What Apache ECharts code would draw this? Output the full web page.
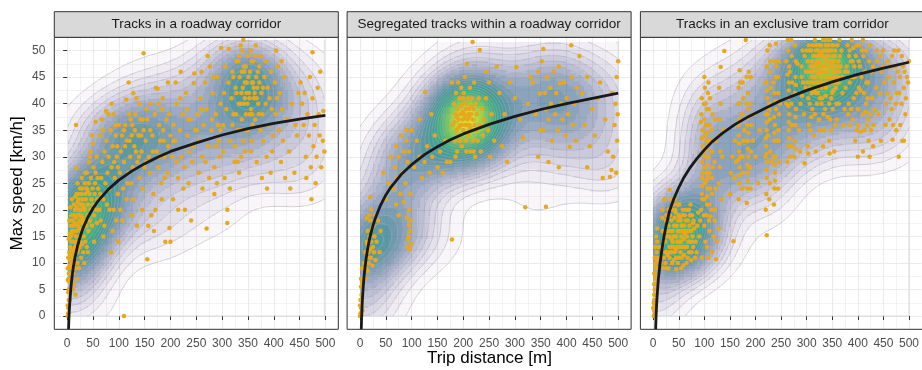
<!DOCTYPE html>
<html>
<head>
<meta charset="utf-8">
<script src="https://cdn.jsdelivr.net/npm/echarts@6.0.0/dist/echarts.min.js"></script>
<style>
html, body { margin: 0; padding: 0; background: #fff; }
#chart { width: 922px; height: 370px; }
</style>
</head>
<body>
<div id="chart"></div>
<script>
var panelTitles = ['Tracks in a roadway corridor', 'Segregated tracks within a roadway corridor', 'Tracks in an exclusive tram corridor'];
var xTicks = [0, 50, 100, 150, 200, 250, 300, 350, 400, 450, 500];
var yTicks = [0, 5, 10, 15, 20, 25, 30, 35, 40, 45, 50];

// trips: [distance m, max speed km/h]
var roadwayPts = [
  [1,0],[2,0.5],[1,2],[3,3],[2,4.5],[4,6.5],[1,6.8],[3,8],[5,9.5],[2,11],[4,12],[6,13],[3,14.5],[5,15.5],[7,17],[4,18],[8,19],[6,20.5],[9,22],[2,1.5],[3,5],[6,10.5],[8,12.5],[9,16],[5,3],[1,9],
  [3,7],[5,8],[7,9],[9,10],[11,11],[13,12],[15,14],[17,15],[19,17],[21,19],[23,20],[25,21],[27,23],[6,11.5],[8,14],[10,15.5],[12,16],[14,17.5],[16,18.5],[18,20.5],[20,21.5],[24,23],[30,24],[34,25],[38,27],[9,6],[12,12.5],[15,11],[18,13.5],[22,17.5],[26,19],[30,21],[35,23],[40,23.5],[7,15],[10,18],[13,21],[16,22.5],[28,17.5],[32,20.5],
  [11,5],[12,8],[13,10],[14,11.5],[15,13],[16,9],[17,14],[18,16],[19,12],[20,10],[21,17],[22,15],[23,19],[24,13],[25,18],[26,21],[27,16],[28,20],[29,22],[12,17],[15,20],[18,23],[20,25],[22,22],[25,24],[28,26],[17,36],[14,19],[13,6],[16,4],[19,7],[21,12.5],[23,9],[26,14],[27,11],[29,13.5],[11,14],[24,16.5],[30,18.5],[18,27.9],
  [31,12],[32,15],[33,18],[34,20],[35,14],[36,22],[37,17],[38,24],[39,19],[40,21],[41,16],[42,25],[43,23],[44,18],[45,20],[46,26],[47,22],[48,17],[49,24],[50,21],[51,28],[52,19],[53,23],[54,25],[55,27],[56,20],[57,30],[58,22],[59,26],[60,24],[33,10],[38,13],[42,29],[45,31],[48,34],[55,36.6],[52,14],[58,17.5],[35,27],[40,12],[44,30],[50,32.5],
  [62,20],[64,23],[66,26],[68,29],[70,22],[72,31],[74,25],[76,33],[78,27],[80,30],[82,24],[84,35],[86,28],[88,32],[90,20],[92,26],[94,34],[96,30],[98,23],[100,36],[65,18],[70,15],[75,38.6],[85,12],[88,16],[95,18],[98,28],[63,34],[67,37],[80,38],[90,38],[93,36],[97,32],[72,17],[82,20],[99,14],[86,40],[77,21],[91,29],[69,35],
  [102,27],[104,31],[106,34],[108,24],[110,0],[110,29],[112,36],[114,40.8],[116,33],[118,27],[120,38],[122,30],[124,25],[125,34],[126,36],[128,22],[130,32],[132,38],[134,41],[136,29],[138,34],[140,26],[142,37],[144,31],[146,24],[148,49.5],[148,35],[150,28],[103,20],[107,18],[115,22],[125,19],[135,17],[145,20],[119,44],[128,42],[140,40],[112,32],[131,35],[139,30],[117,25],[127,28],[121,33],[143,34],
  [110,35],[123,37],[133,31],[146,37],[153,39],[166,31],[177,40],[187,33],[206,33],[219,41],[234,37],[251,35],[260,39],[283,45],[288,32],[297,35],
  [152,33],[155,10.7],[155,37],[158,30],[160,27],[162,40],[165,34],[167,23],[170,38],[172,43],[174,31],[176,28],[178,36],[180,33],[182,25],[184,39],[186,35],[188,30],[190,14],[192,37],[194,27],[196,32],[198,16.6],[200,14],[200,34],[157,17],[163,19],[168,16],[175,42.8],[185,41],[195,44],[153,29],[161,35],[179,30],[189,26],[197,38],[171,20],[183,22],
  [203,30],[206,36],[209,33],[212,40],[215,26],[218,35],[221,30],[224,38],[227,28],[230,42],[233,34],[236,31],[239,37],[242,29],[245,43.9],[246,45.7],[248,35],[205,22],[215,20],[225,24],[235,25],[240,18],[210,44],[220,46],[232,39],[244,32],[228,20],[212,29],
  [252,38],[255,33],[258,41],[261,30],[264,36],[267,44],[270,16.5],[270,39],[273,32],[276,47],[279,35],[282,42],[285,28],[288,38],[291,45],[294,33],[297,40],[298,50.5],[255,27],[262,24],[275,26],[285,23],[295,30],[290,25],[268,29],[280,37],[292,36],[260,46],[272,49],
  [302,36],[304,42],[306,47],[308,39],[310,20],[310,17.5],[312,44],[313,50.3],[315,33],[318,41],[320,46],[322,38],[324,29],[326,43],[328,48],[330,29],[332,40],[334,45],[336,51],[338,37],[340,43],[342,47],[344,41],[346,38],[348,44],[350,49],[335,35],[325,32],[345,31],[341,52],[339,50],[343,46],[347,42],[349,40],[305,26],[315,24],[333,27],[320,36],[337,42],[344,44],[331,48],[327,38],[349,35],[302,31],
  [322,45],[328,42],[333,49],[338,46],[342,40],[346,47],[351,45],[353,41],[357,48],[361,43],[364,49],[336,40],[346,35],[358,38],[367,41],[372,44],[341,33],[356,31],[337,30],[330,35],
  [352,42],[354,46],[356,39],[358,44],[360,48],[362,41],[364,37],[366,45],[368,43],[370,40],[372,47],[374,35],[376,42],[378,38],[380,33],[382,45],[384,40],[386,30],[388,43],[390,36],[392,41],[394,27],[396,39],[398,34],[355,50],[365,51],[375,49],[385,48],[395,46],[357,33],[367,29],[377,26],[387,24],[397,31],[360,44],[369,46],[363,42],[353,38],[359,36],[371,38],[379,43],
  [402,44],[404,38],[406,41],[408,47],[410,35],[412,42],[414,29],[416,39],[418,33],[420,45],[425,37],[430,31],[435,40],[440,27],[445,34],[448,42],[405,50],[415,48],[422,26],[432,24],[442,36],
  [452,44],[455,40],[458,36],[460,42],[462,30],[465,38],[468,34],[470,45],[472,28],[475,49.7],[475,41],[477,32],[479,36],[481,25],[483,30],[485,43],[487,38],[489,34],[492,28],[495,33],[496,38.6],[498,31],[463,26],[473,22],[490,46]
];

var segregatedPts = [
  [0,0],[1,0.5],[2,1.5],[1,3],[3,4],[2,5.5],[4,6.3],[0,2],[3,0.2],[5,1],[2,7],[4,9],
  [8,10],[10,12],[12,9],[13,14],[14,11],[15,16],[16,13],[17,10],[18,15],[19,12.5],[20,18],[21,11],[22,14],[23,16.5],[24,9.5],[25,13],[26,17],[27,12],[28,15],[30,10.5],[32,14],[35,18],[38,12],[40,16],[13,18.4],[20,22.4],[11,7],[15,8.5],[18,19],[22,20],[29,19],[16,12],[19,14],[14,13.5],
  [92,13],[94,15],[95,17],[96,12.6],[97,16],[98,18],[93,14.5],[99,13.5],[95,20],[91,18.5],
  [45,27],[50,22],[55,25],[60,30],[65,24],[68,28],[70,32],[72,26],[75,30],[78,23],[80,34],[82,27],[85,31],[88,25],[90,33],[92,29],[95,31],[97,23],[100,35],[105,28],[110,33],[115,30],[120,26],[125,29],[126,42.2],[130,32],[135,27],[140,30],[145,34],[150,28],[155,31],[160,27],[165,33],[168,29],[90,35],[115,37],[138,38],[75,19],[70,21],[85,21.5],
  [178,14.4],[180,36],[182,40],[184,33],[185,38],[186,42],[187,35],[188,31],[189,39],[190,44],[191,37],[192,34],[193,41],[194,38],[195,36],[196,43],[197,32],[198,40],[199,37],[200,35],[201,42],[202,38],[203,45],[204,36],[205,33],[206,40],[207,47.5],[208,37],[209,41],[210,34],[211,39],[212,36],[213,43],[214,31],[215,38],[216,35],[217,41],[218,51.6],[218,37],[219,33],[220,39],[221,44],[222,36],[223,30],[224,40],[225,35],[226,38],[228,33],[230,41],[232,50.1],[232,36],[234,31],[236,39],[238,34],[240,37],[183,36.5],[187,37.5],[191,35.5],[195,39.5],[199,38.5],[203,37.5],[207,36],[211,37.5],[215,39.5],[205,39],[200,41],[197,36],[210,38],[213,35.5],[194,33],[206,31],[220,31],[185,30],[244,41],[248,35],[252,30],[255,38],[260,33],[245,46],[175,29],[178,44],[250,44],
  [265,47],[270,42],[280,38],[290,44],[300,41],[303,46.9],[310,37],[316,33.5],[320,20.5],[325,40],[330,45],[275,32],[285,29],
  [335,44],[340,38],[345,46],[348,41.9],[350,35],[352,48],[355,50.3],[355,35],[358,42],[360,39],[362,45],[365,37],[368,43],[370,40],[372,33],[375,46],[378,38],[380,42],[383,35],[385,47],[387,43.8],[390,40],[392,37],[395,44],[398,34],[400,41],[403,38],[406,31.9],[409,51],[410,45],[412,36],[415,40],[418,33],[420,43],[345,30],[365,29],[385,28],[360,20.6],
  [430,42],[435,36],[440,45],[445,32],[450,39],[455,34],[460,41],[465,44],[470,26],[475,37],[480,31],[484,26.2],[487,27.5],[488,42],[490,30],[493,36],[495,40],[496,27],[497,45],[498,33],[500,48],[499,38],[440,28],[425,49]
];

var exclusivePts = [
  [1,0],[2,1],[3,2],[4,3],[2,4],[3,5],[5,6],[4,7],[2,8],[6,9],[5,10],[3,11],[7,12],[4,13],[8,14],[1,2.5],[3,0.5],[5,4],[2,6],[6,7.5],[4,9.5],[7,10.5],[6,15],[0,1.5],[8,16.5],[9,11],[10,13],[2,3],[5,2],
  [15,10],[17,13],[19,16],[21,11],[23,14],[25,18],[27,9],[29,12],[31,15],[33,19],[35,22],[37,10],[39,13],[41,17],[43,20],[45,11],[47,14],[49,18],[51,21],[53,12],[55,15],[57,19],[59,9.5],[61,13],[63,16],[65,20],[67,11],[69,14],[71,17],[73,21],[75,12],[77,15],[79,18],
  [18,20],[22,22],[26,15],[30,20],[34,13],[38,16],[42,12],[46,17],[50,14],[54,18],[58,13],[62,19],[66,15],[70,12],[74,16],[78,13],[36,18],[40,21],[44,15],[48,10],[52,16],[56,11],[60,17],[64,13],[68,18],[72,14],[76,19],[28,16],[32,11],[24,12],[20,14],[45,8.8],[55,9],[65,10],[32,23.8],[22.7,22],[18,18.5],[40,15],[50,19],[60,14.5],[48,16],[42,18.5],[38,14],[58,16],[44,12.5],[52,13],
  [20,9],[24,10],[28,11.5],[32,13],[36,14.5],[40,10.5],[44,19.5],[48,21],[52,18.5],[56,17],[60,11.5],[64,18],[68,16],[72,19],[76,14],[80,16.5],[26,19],[30,17],[34,16],[38,20],[42,22],[46,13],[50,11],[54,14],[58,20],[62,15.5],[66,13],[70,20],[74,10.5],[78,17.5],[30,9],[35,12],[25,16],[83,14],[86,17],[88,19.5],[82,11],
  [85,12],[90,15],[95,11],[100,17],[105,13],[110,16],[115,12],[120,18],[123,10.7],[125,14],[128,16.5],[102,14],[112,18.8],[118,15],[92,18],[108,11],[157,14.1],[222,15.2],
  [94,20],[95,23],[96,26],[95,29],[97,32],[96,35],[94,38],[95,41],[96,22],[97,27],[94,30.5],[95,33.5],[93,36.5],[96,24.5],
  [99,19],[100,22],[101,25],[100,28],[99,31],[101,34],[100,37],[99,40],[101,43],[100,45],
  [104,19],[105,21],[106,24],[105,27],[107,30],[104,33],[106,36],[105,39],[107,42],[104,25.5],[106,31.5],[105,34.5],[106,28.5],[105,22.5],
  [102,30],[103,36],[107,26],[108,33],[103,40],[108,44],
  [109,18],[110,21],[111,24],[110,27],[109,30],[111,33],[110,36],[109,39],[111,41],
  [114,20],[115,23],[116,28],[115,31],[114,35],[116,38],[115,26],[114,33],[121,20],[122,24],[120,29],[123,33],[121,37],
  [128,25],[130,28],[131,31],[129,34],[130,37],[132,40],[129,43],[132,46.9],[139,49.9],[135,30],[137,35],[133,22],
  [150,23],[152,27],[155,30],[158,26],[160,33],[162,29],
  [167,22],[168,25],[169,28],[168,31],[167,34],[169,37],[168,40],[167,43],[169,46.3],[168,26.5],[168,32.5],[167,29.5],
  [166,36],[170,30],[166,40],[170,44],
  [174,24],[175,27],[176,33],[174,38],[176,41],[175,44],
  [183,21.3],[184,24],[185,27],[186,30],[185,33],[184,36],[186,39],[185,42],[183,45],[181,52],[185,25.5],[186,34.5],[184,28.5],[185,31.5],[186,37.5],
  [182,33],[187,28],[182,40],[187,46],
  [190,24],[191,31],[192,36],[190,40],[191,45],
  [175,30],[178,35],[190,28],[195,33],[198,38],[200,30],[205,25],[208,35],
  [220,20],[221,23],[222,26],[223,29],[221,32],[222,35],[220,38],[223,41],[221,44],[222,47],[223,50],[222,30.5],[221,27.5],[222,36.5],[220,33.5],[223,42.5],
  [219,30],[224,34],[219,44],[224,38],
  [227,22],[228,25],[229,31],[228,37],[227,40],[229,48],[228,51],
  [236,21],[237,24],[238,27],[239,30],[237,33],[238,36],[240,39],[237,42],[239,45],[238,48],[240,51.3],[238,28.5],[237,34.5],[239,40.5],[238,25.5],[236,37.5],
  [235,30],[241,33],[235,44],[241,47],
  [244,24],[246,29],[245,33],[246,38],[244,42],[246,48],
  [230,43],[245,35],[248,40],[232,29],[228,46],[244,45],[226,39],
  [262,29],[264,32],[265,35],[266,38],[264,41],[265,44],[266,47],[264,50],[263,52],[265,36.5],[266,33.5],[264,39.5],[265,42.5],[263,45.5],
  [260,40],[267,46],[260,48],[267,30],
  [270,32],[271,36],[270,40],[272,44],[271,49],[270,52],
  [276,30],[277,33],[278,36],[279,39],[277,42],[278,45],[279,48],[277,51],[278,37.5],[279,43.5],[278,31.5],
  [285,35],[288,40],[290,45],[292,50],[295,38],[298,43],[287,31],[296,28.8],[282,47.5],[291,41.5],
  [302,32],[304,36],[306,40],[308,44],[310,48],[312,51],[314,34],[316,38],[318,42],[320,46],[322,50],[324,37],[326,41],[328,45],[330,49],[332,52],[334,35],[336,39],[338,43],[340,47],[342,51],[344,33],[346,37],[348,41],[350,45],[352,49],[354,31],[356,36],[358,40],[360,44],[362,48],[364,52],
  [305,46],[309,50],[313,45],[317,49],[321,44],[325,48],[329,43],[333,47],[337,51],[341,46],[345,50],[349,44],[353,48],[357,43],[361,47],[319,47.5],[323,45.5],[327,49.5],[331,46],[335,48.5],[339,45],[343,49],[347,47],[315,42.5],[311,39],[307,35],[303,41],[351,39],[355,44],[359,37],[326,35],[333,38],[341,37.5],[348,35],[303,30.6],[318,31],[332,32],[345,30.6],[309,37.5],[320,40],[337,41.5],[352,42.5],
  [301,44],[306,50],[311,46],[316,52],[321,48],[326,51],[331,50],[336,46],[341,49],[346,52],[351,47],[356,50],[361,45],[363,40],[314,44],[322,42],[329,40],[344,40],[357,46],[365,49],[312,47],[338,48],[324,51],[348,50],
  [290,47],[293,44],[296,49],[299,46],[302,48],[304,51],[307,43],[310,45],[313,49],[315,47],[318,50],[320,43],[323,49],[325,46],[328,51],[330,47],[333,44],[335,50],[338,47],[340,44],[343,52],[345,48],[347,45],[350,51],[353,46],[355,49],[358,47],[360,51],[362,44],[366,47],[368,50],[370,45],
  [300,50],[308,47],[316,45],[324,47],[332,49],[340,50],[348,48],[356,45],[364,46],[319,51],[327,44],[336,52],[344,45],[352,51],[310,42],[330,41],[350,42],[370,42],
  [372,36],[374,39],[376,43],[378,47],[380,51],[382,40],[384,44],[386,48],[388,52],[390,37],[392,41],[394,45],[396,49],[398,35],[400,39],[402,43],[404,47],[406,34.7],[408,50],[410,38],[412,42],[414,46],[416,40],[418,36],[420,44],[422,48],[423,30],[425,38],[426,35],[428,41],[430,32],[413,35],[415,38.5],[419,41],[421,33],[410,31],[400,30],[405,42.5],[385,36],[395,33],[375,46],[391,50.5],[383,49],[403,51],
  [381,38],[389,45],[397,42],[407,45],[411,49],[417,44],[427,46],[433,39],[436,43],[438,48],[387,39],[401,36],[393,47],[420,37],[431,36],
  [380,46],[384,50],[390,48],[398,51],[402,48],[410,52],[416,50],[424,51],[430,47],[437,50],[444,49],[450,47],
  [440,38],[443,42],[446,46],[449,50],[452,44],[455,40],[458,48],[461,45],[464,41],[467,49],[468,33.2],[470,44],[473,47],[476,42],[479,50],[482,45],[485,40],[488,47],[490,43],[493,38],[496,45],[500,48],[454,36],[462,37],[475,35],[483,36],[445,33],[480,30],[490,33],
  [458,42],[463,47],[466,39],[471,50],[474,40],[478,46],[481,42],[486,49],[491,46],[494,41],[498,44],[469,36],[487,33]
];

// fitted curve
var roadwayFit = [[2.6,-2.5],[3,-1.3],[3.5,0],[4,1],[5,2.6],[6,3.9],[7,5.2],[8,6.2],[10,7.9],[12,9.3],[15,11],[20,13.2],[25,14.9],[30,16.4],[40,18.6],[50,20.3],[60,21.7],[80,23.9],[100,25.6],[125,27.3],[150,28.7],[175,29.9],[200,31],[250,32.6],[300,34.1],[350,35.3],[400,36.3],[450,37.1],[500,37.8]];
var segregatedFit = [[2.5,-2.5],[3,-0.6],[3.5,0.7],[4,1.8],[5,3.7],[6,5.2],[7,6.5],[8,7.6],[10,9.4],[12,10.9],[15,12.8],[20,15.2],[25,17],[30,18.5],[40,20.9],[50,22.8],[60,24.3],[80,26.7],[100,28.5],[125,30.4],[150,31.9],[175,33.2],[200,34.3],[250,36.1],[300,37.6],[350,38.9],[400,40],[450,41],[500,42]];
var exclusiveFit = [[4.8,-2.5],[5.3,-1],[6,0.8],[7,2.7],[8,4.2],[10,6.8],[13,9.6],[16,11.8],[20,14.4],[25,16.9],[32,19.8],[40,22],[50,24.2],[60,26.1],[71,27.8],[85,29.6],[100,31.3],[115,32.8],[135,34.4],[160,36.1],[187,37.6],[220,39.2],[250,40.6],[300,42.5],[350,44.1],[400,45.5],[450,46.7],[500,47.8]];

var panelPts = [roadwayPts, segregatedPts, exclusivePts];
var panelFits = [roadwayFit, segregatedFit, exclusiveFit];

var FONT = 'Liberation Sans, Arial, Helvetica, sans-serif';
var LEFTS = [54.3, 347.1, 640.4];
var PW = 284, TOP = 37.3, PH = 292;
var NLEV = 25, A_LO = 0.04, A_HI = 0.42, A_EXP = 1.2, NG = 100;

// ---- 2d kernel density (MASS::kde2d style) ----
function quant(s, p) {
  var h = (s.length - 1) * p, lo = Math.floor(h);
  var hi = Math.min(lo + 1, s.length - 1);
  return s[lo] + (h - lo) * (s[hi] - s[lo]);
}
function bw(v) {
  var n = v.length, m = 0, i;
  for (i = 0; i < n; i++) m += v[i];
  m /= n;
  var ss = 0;
  for (i = 0; i < n; i++) ss += (v[i] - m) * (v[i] - m);
  var sd = Math.sqrt(ss / (n - 1));
  var s = v.slice().sort(function (a, b) { return a - b; });
  var iqr = quant(s, 0.75) - quant(s, 0.25);
  return 1.06 * Math.min(sd, iqr / 1.34) * Math.pow(n, -0.2);
}
function kde(pts) {
  var xs = pts.map(function (p) { return p[0]; });
  var ys = pts.map(function (p) { return p[1]; });
  var x0 = Math.min.apply(null, xs), x1 = Math.max.apply(null, xs);
  var y0 = Math.min.apply(null, ys), y1 = Math.max.apply(null, ys);
  var hx = bw(xs), hy = bw(ys), n = pts.length;
  var gx = [], gy = [], i, j, k;
  for (i = 0; i < NG; i++) { gx.push(x0 + (x1 - x0) * i / (NG - 1)); gy.push(y0 + (y1 - y0) * i / (NG - 1)); }
  var ax = gx.map(function (g) { return xs.map(function (x) { var u = (g - x) / hx; return Math.exp(-0.5 * u * u); }); });
  var ay = gy.map(function (g) { return ys.map(function (y) { var u = (g - y) / hy; return Math.exp(-0.5 * u * u); }); });
  var z = [], max = 0, norm = 1 / (n * 2 * Math.PI * hx * hy);
  for (i = 0; i < NG; i++) {
    z.push([]);
    for (j = 0; j < NG; j++) {
      var s = 0, a = ax[i], b = ay[j];
      for (k = 0; k < n; k++) s += a[k] * b[k];
      s *= norm;
      z[i].push(s);
      if (s > max) max = s;
    }
  }
  return { gx: gx, gy: gy, z: z, max: max };
}

var dens = panelPts.map(kde);
var gmax = Math.max.apply(null, dens.map(function (d) { return d.max; }));
var levels = [];
for (var m = 1; m < NLEV; m++) levels.push(gmax * m / NLEV);

var VIR = [[68,1,84],[72,36,117],[65,68,135],[53,95,141],[42,120,142],[33,145,140],[34,168,132],[68,191,112],[122,209,81],[189,223,38],[253,231,37]];
function viridis(t) {
  var p = t * (VIR.length - 1), i = Math.min(Math.floor(p), VIR.length - 2), f = p - i;
  return [0, 1, 2].map(function (c) { return VIR[i][c] + (VIR[i + 1][c] - VIR[i][c]) * f; });
}
// stacked translucent polygons -> one rgba per level count
var stackCols = [null];
(function () {
  var S = [0, 0, 0], T = 1;
  for (var k = 1; k <= levels.length; k++) {
    var t = (k - 1) / (levels.length - 1);
    var c = viridis(0.08 + 0.92 * t), a = A_LO + (A_HI - A_LO) * Math.pow(t, A_EXP);
    S = S.map(function (v, q) { return v * (1 - a) + a * c[q]; });
    T *= (1 - a);
    var A = 1 - T;
    stackCols.push('rgba(' + S.map(function (v) { return Math.round(v / A); }).join(',') + ',' + A.toFixed(3) + ')');
  }
})();
function levelCount(v) {
  var k = 0;
  while (k < levels.length && v >= levels[k]) k++;
  return k;
}

var SEG = {1:[['L','B']],2:[['B','R']],3:[['L','R']],4:[['R','T']],5:[['L','T'],['B','R']],6:[['B','T']],7:[['L','T']],
  8:[['L','T']],9:[['B','T']],10:[['L','B'],['R','T']],11:[['R','T']],12:[['L','R']],13:[['B','R']],14:[['L','B']]};

function densityRenderer(d) {
  return function (params, api) {
    var children = [];
    var fx = d.gx.map(function (g) { return api.coord([g, 0])[0]; });
    var fy = d.gy.map(function (g) { return api.coord([0, g])[1]; });
    var px = fx.map(Math.round), py = fy.map(Math.round);
    var i, j;
    for (j = 0; j < NG - 1; j++) {
      var runK = 0, runStart = 0;
      for (i = 0; i < NG; i++) {
        var k = 0;
        if (i < NG - 1) k = levelCount((d.z[i][j] + d.z[i + 1][j] + d.z[i][j + 1] + d.z[i + 1][j + 1]) / 4);
        if (k !== runK || i === NG - 1) {
          if (runK > 0) children.push({ type: 'rect', shape: { x: px[runStart], y: py[j + 1], width: px[i] - px[runStart], height: py[j] - py[j + 1] }, style: { fill: stackCols[runK] } });
          runK = k; runStart = i;
        }
      }
    }
    levels.forEach(function (L) {
      var path = [];
      for (i = 0; i < NG - 1; i++) {
        for (j = 0; j < NG - 1; j++) {
          var a = d.z[i][j], b = d.z[i + 1][j], c = d.z[i + 1][j + 1], e = d.z[i][j + 1];
          var idx = (a >= L ? 1 : 0) | (b >= L ? 2 : 0) | (c >= L ? 4 : 0) | (e >= L ? 8 : 0);
          var segs = SEG[idx];
          if (!segs) continue;
          var P = {
            B: [fx[i] + (L - a) / (b - a) * (fx[i + 1] - fx[i]), fy[j]],
            R: [fx[i + 1], fy[j] + (L - b) / (c - b) * (fy[j + 1] - fy[j])],
            T: [fx[i] + (L - e) / (c - e) * (fx[i + 1] - fx[i]), fy[j + 1]],
            L: [fx[i], fy[j] + (L - a) / (e - a) * (fy[j + 1] - fy[j])]
          };
          segs.forEach(function (sg) {
            var p1 = P[sg[0]], p2 = P[sg[1]];
            path.push('M' + p1[0].toFixed(1) + ' ' + p1[1].toFixed(1) + 'L' + p2[0].toFixed(1) + ' ' + p2[1].toFixed(1));
          });
        }
      }
      if (path.length) children.push({ type: 'path', shape: { pathData: path.join('') }, style: { fill: null, stroke: '#a8a8b2', lineWidth: 0.5 } });
    });
    // outline of the density grid
    var x0 = fx[0], x1 = fx[NG - 1], y0 = fy[0], y1 = fy[NG - 1];
    children.push({ type: 'polyline', shape: { points: [[x0, y0], [x1, y0], [x1, y1]] }, style: { fill: null, stroke: '#cfcfd4', lineWidth: 0.7 } });
    return { type: 'group', children: children };
  };
}

var grids = [], xAxes = [], yAxes = [], series = [], graphics = [];
LEFTS.forEach(function (left, p) {
  grids.push({ left: left, top: TOP, width: PW, height: PH, containLabel: false });
  xAxes.push({
    gridIndex: p, type: 'value', min: -25, max: 525, splitNumber: 11,
    axisLine: { show: false },
    axisTick: { show: true, length: 4, lineStyle: { color: '#333333', width: 1 }, customValues: xTicks },
    axisLabel: { customValues: xTicks, margin: 8, fontSize: 12, color: '#4D4D4D', fontFamily: FONT },
    splitLine: { show: true, lineStyle: { color: '#EBEBEB', width: 1.1 } }
  });
  xAxes.push({
    gridIndex: p, type: 'value', position: 'top', min: -25, max: 525, interval: 50,
    axisLine: { show: false }, axisTick: { show: false }, axisLabel: { show: false },
    splitLine: { show: true, showMinLine: false, showMaxLine: false, lineStyle: { color: '#EBEBEB', width: 0.6 } }
  });
  yAxes.push({
    gridIndex: p, type: 'value', min: -2.5, max: 52.5, splitNumber: 11,
    axisLine: { show: false },
    axisTick: { show: p === 0, length: 4, lineStyle: { color: '#333333', width: 1 }, customValues: yTicks },
    axisLabel: { show: p === 0, customValues: yTicks, margin: 9, fontSize: 12, color: '#4D4D4D', fontFamily: FONT },
    splitLine: { show: true, lineStyle: { color: '#EBEBEB', width: 1.1 } }
  });
  yAxes.push({
    gridIndex: p, type: 'value', position: 'right', min: -2.5, max: 52.5, interval: 5,
    axisLine: { show: false }, axisTick: { show: false }, axisLabel: { show: false },
    splitLine: { show: true, showMinLine: false, showMaxLine: false, lineStyle: { color: '#EBEBEB', width: 0.6 } }
  });
  series.push({
    type: 'custom', xAxisIndex: 2 * p, yAxisIndex: 2 * p, data: [[0, 0]], clip: true, silent: true, z: 1,
    renderItem: densityRenderer(dens[p])
  });
  series.push({
    type: 'scatter', xAxisIndex: 2 * p, yAxisIndex: 2 * p, data: panelPts[p], symbolSize: 4.5, z: 3,
    itemStyle: { color: '#E6A81E', opacity: 1 }, silent: true
  });
  series.push({
    type: 'line', xAxisIndex: 2 * p, yAxisIndex: 2 * p, data: panelFits[p], smooth: false,
    showSymbol: false, z: 4, clip: true, silent: true, lineStyle: { color: '#1A1A1A', width: 2.8, join: 'round' }
  });
  graphics.push({ type: 'rect', z: 100, shape: { x: left, y: TOP, width: PW, height: PH }, style: { fill: null, stroke: '#333333', lineWidth: 1 } });
  graphics.push({ type: 'rect', z: 100, shape: { x: left, y: 11.7, width: PW, height: TOP - 11.7 }, style: { fill: '#D9D9D9', stroke: '#333333', lineWidth: 1 } });
  graphics.push({ type: 'text', z: 101, x: left + PW / 2, y: (11.7 + TOP) / 2, style: { text: panelTitles[p], fill: '#1A1A1A', font: '13.5px ' + FONT, textAlign: 'center', textVerticalAlign: 'middle' } });
});
graphics.push({ type: 'text', z: 101, x: 489.4, y: 358, style: { text: 'Trip distance [m]', fill: '#000000', font: '17px ' + FONT, textAlign: 'center', textVerticalAlign: 'middle' } });
graphics.push({ type: 'text', z: 101, x: 17, y: 183.3, rotation: Math.PI / 2, style: { text: 'Max speed [km/h]', fill: '#000000', font: '17px ' + FONT, textAlign: 'center', textVerticalAlign: 'middle' } });

var chart = echarts.init(document.getElementById('chart'), null, { renderer: 'canvas' });
chart.setOption({
  animation: false,
  backgroundColor: '#ffffff',
  grid: grids, xAxis: xAxes, yAxis: yAxes, series: series, graphic: graphics
});
</script>
</body>
</html>
